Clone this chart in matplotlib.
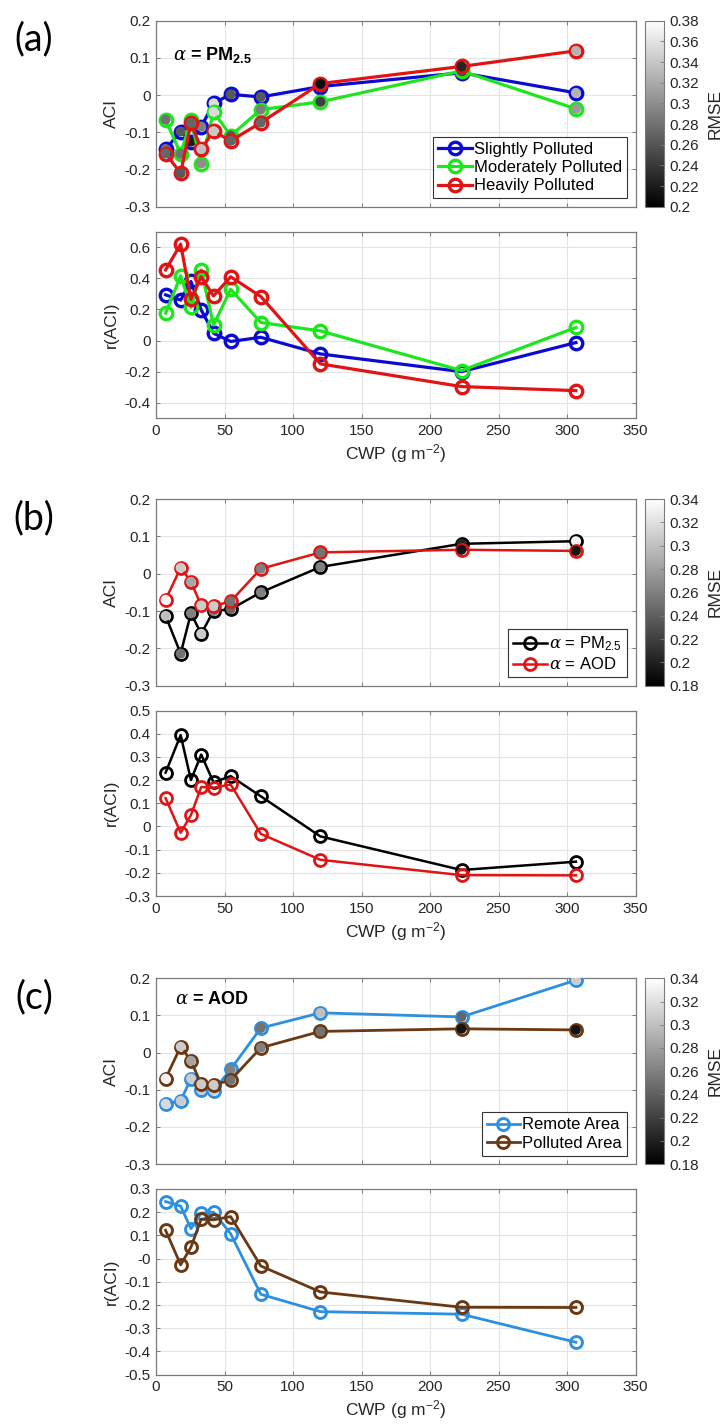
import numpy as np
import matplotlib
matplotlib.use('Agg')
import matplotlib.pyplot as plt
from matplotlib.cm import ScalarMappable
from matplotlib.colors import Normalize

plt.rcParams['font.family'] = ['Liberation Sans', 'DejaVu Sans']
plt.rcParams['mathtext.fontset'] = 'custom'
plt.rcParams['mathtext.rm'] = 'Liberation Sans'
plt.rcParams['mathtext.bf'] = 'Liberation Sans:bold'
plt.rcParams['mathtext.it'] = 'DejaVu Serif:italic'

# CWP bin centres (g m-2)
cwp = [7, 18, 25.5, 33, 42, 54.5, 76.5, 120, 223, 306.5]

# (a) alpha = PM2.5, split by pollution level
aci_slight = [-0.145, -0.098, -0.125, -0.085, -0.022, 0.002, -0.005, 0.023, 0.060, 0.006]
aci_moder = [-0.066, -0.158, -0.068, -0.184, -0.045, -0.109, -0.039, -0.018, 0.065, -0.037]
aci_heavy = [-0.157, -0.210, -0.075, -0.145, -0.097, -0.123, -0.074, 0.031, 0.077, 0.119]
rmse_slight = [0.280, 0.263, 0.220, 0.290, 0.355, 0.263, 0.263, 0.236, 0.236, 0.326]
rmse_moder = [0.280, 0.280, 0.300, 0.300, 0.353, 0.263, 0.290, 0.245, 0.254, 0.308]
rmse_heavy = [0.272, 0.263, 0.272, 0.335, 0.340, 0.272, 0.272, 0.209, 0.227, 0.326]
r_slight = [0.294, 0.260, 0.380, 0.197, 0.047, -0.006, 0.021, -0.086, -0.200, -0.013]
r_moder = [0.176, 0.416, 0.214, 0.454, 0.100, 0.330, 0.116, 0.062, -0.193, 0.084]
r_heavy = [0.454, 0.620, 0.266, 0.410, 0.287, 0.410, 0.283, -0.150, -0.296, -0.322]

# (b) PM2.5 vs AOD as aerosol proxy
aci_pm = [-0.113, -0.214, -0.106, -0.161, -0.100, -0.095, -0.050, 0.018, 0.080, 0.087]
aci_aod = [-0.070, 0.016, -0.022, -0.085, -0.087, -0.074, 0.013, 0.057, 0.064, 0.061]
rmse_pm = [0.300, 0.252, 0.260, 0.308, 0.260, 0.244, 0.260, 0.260, 0.204, 0.332]
rmse_aod = [0.332, 0.308, 0.284, 0.308, 0.308, 0.252, 0.260, 0.252, 0.193, 0.193]
r_pm = [0.232, 0.394, 0.200, 0.310, 0.190, 0.217, 0.130, -0.043, -0.188, -0.152]
r_aod = [0.122, -0.027, 0.049, 0.170, 0.167, 0.181, -0.032, -0.144, -0.210, -0.211]

# (c) alpha = AOD, remote vs polluted area
aci_remote = [-0.138, -0.130, -0.070, -0.101, -0.103, -0.045, 0.066, 0.107, 0.096, 0.195]
rmse_remote = [0.316, 0.308, 0.308, 0.308, 0.308, 0.260, 0.252, 0.300, 0.244, 0.308]
r_remote = [0.246, 0.226, 0.129, 0.196, 0.200, 0.107, -0.154, -0.229, -0.240, -0.361]
aci_polluted = aci_aod
rmse_polluted = rmse_aod
r_polluted = r_aod

# axis ticks
xticks = [0, 50, 100, 150, 200, 250, 300, 350]
aci_ticks = [-0.3, -0.2, -0.1, 0, 0.1, 0.2]
aci_ticklabels = ['-0.3', '-0.2', '-0.1', '0', '0.1', '0.2']
ra_ticks = [-0.4, -0.2, 0, 0.2, 0.4, 0.6]
ra_ticklabels = ['-0.4', '-0.2', '0', '0.2', '0.4', '0.6']
rb_ticks = [-0.3, -0.2, -0.1, 0, 0.1, 0.2, 0.3, 0.4, 0.5]
rb_ticklabels = ['-0.3', '-0.2', '-0.1', '0', '0.1', '0.2', '0.3', '0.4', '0.5']
rc_ticks = [-0.5, -0.4, -0.3, -0.2, -0.1, 0, 0.1, 0.2, 0.3]
rc_ticklabels = ['-0.5', '-0.4', '-0.3', '-0.2', '-0.1', '-0', '0.1', '0.2', '0.3']
cb_a_ticks = [0.2, 0.22, 0.24, 0.26, 0.28, 0.3, 0.32, 0.34, 0.36, 0.38]
cb_bc_ticks = [0.18, 0.2, 0.22, 0.24, 0.26, 0.28, 0.3, 0.32, 0.34]

W, H = 726, 1428
fig = plt.figure(figsize=(W / 100, H / 100), dpi=100)

FRAME = '#7a7a7a'
TXT = '#262626'


def pix_axes(left, top, right, bottom):
    return fig.add_axes([left / W, 1 - bottom / H, (right - left) / W, (bottom - top) / H])


def style(ax, ylim, yticks, yticklabels, ylabel, bottom_row):
    ax.set_xlim(0, 350)
    ax.set_xticks(xticks)
    ax.set_ylim(*ylim)
    ax.set_yticks(yticks)
    ax.set_yticklabels(yticklabels)
    ax.grid(True, color='#e4e4e4', lw=0.8)
    ax.set_axisbelow(True)
    ax.tick_params(direction='in', top=True, right=True, length=3, width=0.7,
                   color=FRAME, labelsize=11, labelcolor=TXT, pad=4)
    for s in ax.spines.values():
        s.set_color(FRAME)
        s.set_linewidth(0.9)
    ax.set_ylabel(ylabel, fontsize=12.5, color=TXT, labelpad=4)
    if bottom_row:
        ax.set_xlabel('CWP (g m$^{-2}$)', fontsize=12.5, color=TXT, labelpad=3)
    else:
        ax.tick_params(labelbottom=False)


def series(ax, y, color, lw, ms, mew, z, rmse=None, norm=None, label=None):
    line, = ax.plot(cwp, y, '-o', color=color, lw=lw, ms=ms, mew=mew,
                    mfc='none', mec=color, zorder=z, label=label)
    if rmse is not None:
        ax.scatter(cwp, y, c=rmse, cmap='gray', norm=norm, s=(ms - mew + 0.6) ** 2,
                   edgecolors='none', zorder=z + 0.5)
    return line


def colorbar(top, bottom, norm, ticks):
    cax = pix_axes(645, top, 664, bottom)
    cb = fig.colorbar(ScalarMappable(norm=norm, cmap='gray'), cax=cax)
    cb.set_ticks(ticks)
    cb.set_ticklabels(['%g' % t for t in ticks])
    cb.outline.set_edgecolor(FRAME)
    cb.outline.set_linewidth(0.8)
    cax.tick_params(direction='in', length=3, width=0.6, color=FRAME,
                    labelsize=11, labelcolor=TXT, pad=4)
    cb.set_label('RMSE', fontsize=12.5, color=TXT, labelpad=6)


def legend(ax, handles):
    leg = ax.legend(handles=handles, loc='lower right', fontsize=12, numpoints=1,
                    handlelength=2.0, handletextpad=0.15, borderpad=0.3,
                    labelspacing=0.2, borderaxespad=0.5, fancybox=False,
                    framealpha=1, edgecolor='#333333')
    leg.get_frame().set_linewidth(0.8)
    leg.set_zorder(20)


BLUE = '#0a0ad2'
GREEN = '#1ee61e'
RED = '#e01414'
SKY = '#2d8fe0'
BROWN = '#6a3812'

# line width, marker size, marker edge width per panel
A_STYLE = (2.3, 9.0, 2.4)
B_STYLE = (1.8, 8.6, 2.0)
C_STYLE = (2.0, 8.6, 2.1)

# ---- (a) ----
norm_a = Normalize(0.2, 0.38)
ax = pix_axes(156, 20.7, 635.5, 206.7)
h1 = series(ax, aci_slight, BLUE, *A_STYLE, 3, rmse_slight, norm_a, 'Slightly Polluted')
h2 = series(ax, aci_moder, GREEN, *A_STYLE, 4, rmse_moder, norm_a, 'Moderately Polluted')
h3 = series(ax, aci_heavy, RED, *A_STYLE, 5, rmse_heavy, norm_a, 'Heavily Polluted')
style(ax, (-0.3, 0.2), aci_ticks, aci_ticklabels, 'ACI', False)
legend(ax, [h1, h2, h3])
ax.text(0.035, 0.79, r'$\alpha$ = PM$_{\mathbf{2.5}}$', transform=ax.transAxes,
        fontsize=13, fontweight='bold', va='baseline', color='black')
colorbar(20.7, 206.7, norm_a, cb_a_ticks)

ax = pix_axes(156, 231.7, 635.5, 418.3)
series(ax, r_slight, BLUE, *A_STYLE, 3)
series(ax, r_moder, GREEN, *A_STYLE, 4)
series(ax, r_heavy, RED, *A_STYLE, 5)
style(ax, (-0.5, 0.7), ra_ticks, ra_ticklabels, 'r(ACI)', True)

# ---- (b) ----
norm_bc = Normalize(0.18, 0.34)
ax = pix_axes(156, 499, 635.5, 685.7)
h1 = series(ax, aci_pm, 'black', *B_STYLE, 3, rmse_pm, norm_bc, r'$\alpha$ = PM$_{2.5}$')
h2 = series(ax, aci_aod, RED, *B_STYLE, 4, rmse_aod, norm_bc, r'$\alpha$ = AOD')
style(ax, (-0.3, 0.2), aci_ticks, aci_ticklabels, 'ACI', False)
legend(ax, [h1, h2])
colorbar(499, 685.7, norm_bc, cb_bc_ticks)

ax = pix_axes(156, 710.5, 635.5, 896)
series(ax, r_pm, 'black', *B_STYLE, 3)
series(ax, r_aod, RED, *B_STYLE, 4)
style(ax, (-0.3, 0.5), rb_ticks, rb_ticklabels, 'r(ACI)', True)

# ---- (c) ----
ax = pix_axes(156, 978.3, 635.5, 1164)
h1 = series(ax, aci_remote, SKY, *C_STYLE, 3, rmse_remote, norm_bc, 'Remote Area')
h2 = series(ax, aci_polluted, BROWN, *C_STYLE, 4, rmse_polluted, norm_bc, 'Polluted Area')
style(ax, (-0.3, 0.2), aci_ticks, aci_ticklabels, 'ACI', False)
legend(ax, [h1, h2])
ax.text(0.04, 0.86, r'$\alpha$ = AOD', transform=ax.transAxes,
        fontsize=13, fontweight='bold', va='baseline', color='black')
colorbar(978.3, 1164, norm_bc, cb_bc_ticks)

ax = pix_axes(156, 1189, 635.5, 1374.5)
series(ax, r_remote, SKY, *C_STYLE, 3)
series(ax, r_polluted, BROWN, *C_STYLE, 4)
style(ax, (-0.5, 0.3), rc_ticks, rc_ticklabels, 'r(ACI)', True)

# panel tags
for tag, yc in [('(a)', 39), ('(b)', 518), ('(c)', 997)]:
    fig.text(34 / W, 1 - yc / H, tag, fontsize=27, family=['Lato', 'DejaVu Sans'],
             ha='center', va='center', color='black')

fig.savefig('out.png', dpi=100)
